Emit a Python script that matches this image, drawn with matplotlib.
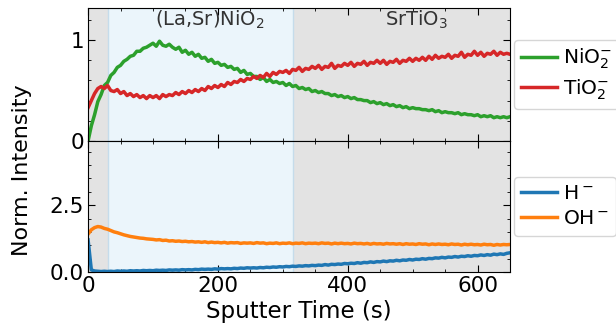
import numpy as np
import matplotlib
matplotlib.use('Agg')
import matplotlib.pyplot as plt
from matplotlib.ticker import MultipleLocator

# Sputter time grid (s), one reading every 5 s
t = np.arange(0, 651, 5)

# Top panel: NiO2- and TiO2- (normalised)
nio2 = [0.00, 0.15, 0.26, 0.39, 0.46, 0.55, 0.58, 0.65, 0.68, 0.73,
        0.75, 0.79, 0.81, 0.84, 0.85, 0.89, 0.89, 0.92, 0.93, 0.95,
        0.97, 0.94, 0.99, 0.95, 0.94, 0.96, 0.93, 0.91, 0.93, 0.88,
        0.90, 0.86, 0.88, 0.84, 0.86, 0.82, 0.83, 0.79, 0.81, 0.77,
        0.78, 0.75, 0.76, 0.73, 0.74, 0.71, 0.72, 0.68, 0.70, 0.66,
        0.67, 0.64, 0.64, 0.61, 0.63, 0.59, 0.61, 0.58, 0.59, 0.57,
        0.58, 0.55, 0.57, 0.54, 0.55, 0.52, 0.53, 0.51, 0.52, 0.49,
        0.50, 0.48, 0.49, 0.47, 0.47, 0.45, 0.46, 0.44, 0.45, 0.43,
        0.44, 0.42, 0.43, 0.41, 0.41, 0.40, 0.40, 0.38, 0.39, 0.37,
        0.38, 0.36, 0.37, 0.35, 0.36, 0.34, 0.35, 0.33, 0.34, 0.32,
        0.33, 0.32, 0.32, 0.31, 0.31, 0.30, 0.31, 0.29, 0.30, 0.28,
        0.29, 0.28, 0.28, 0.27, 0.28, 0.26, 0.27, 0.26, 0.26, 0.25,
        0.26, 0.24, 0.25, 0.24, 0.25, 0.23, 0.24, 0.23, 0.24, 0.23,
        0.24]
tio2 = [0.33, 0.40, 0.47, 0.52, 0.54, 0.52, 0.55, 0.50, 0.49, 0.51,
        0.47, 0.49, 0.45, 0.47, 0.44, 0.46, 0.43, 0.45, 0.42, 0.45,
        0.43, 0.45, 0.42, 0.46, 0.44, 0.46, 0.45, 0.48, 0.46, 0.49,
        0.47, 0.50, 0.48, 0.51, 0.49, 0.52, 0.50, 0.54, 0.52, 0.55,
        0.53, 0.56, 0.54, 0.58, 0.56, 0.59, 0.58, 0.61, 0.59, 0.62,
        0.61, 0.64, 0.62, 0.65, 0.63, 0.67, 0.64, 0.68, 0.66, 0.69,
        0.68, 0.70, 0.67, 0.71, 0.70, 0.73, 0.69, 0.72, 0.71, 0.74,
        0.72, 0.75, 0.71, 0.74, 0.73, 0.77, 0.72, 0.75, 0.74, 0.77,
        0.75, 0.78, 0.74, 0.77, 0.76, 0.79, 0.75, 0.78, 0.77, 0.80,
        0.77, 0.80, 0.76, 0.79, 0.78, 0.81, 0.77, 0.80, 0.79, 0.82,
        0.79, 0.82, 0.80, 0.83, 0.80, 0.84, 0.81, 0.85, 0.82, 0.84,
        0.83, 0.86, 0.82, 0.85, 0.84, 0.88, 0.83, 0.86, 0.85, 0.89,
        0.85, 0.88, 0.84, 0.87, 0.86, 0.89, 0.85, 0.88, 0.86, 0.87,
        0.86]

# Bottom panel: H- and OH-
h = [1.20, 0.08, 0.04, 0.03, 0.02, 0.03, 0.02, 0.03, 0.02, 0.04,
     0.03, 0.04, 0.03, 0.05, 0.04, 0.05, 0.04, 0.06, 0.05, 0.06,
     0.05, 0.07, 0.06, 0.07, 0.06, 0.08, 0.07, 0.08, 0.07, 0.09,
     0.08, 0.09, 0.08, 0.10, 0.09, 0.11, 0.10, 0.11, 0.10, 0.12,
     0.11, 0.13, 0.12, 0.13, 0.12, 0.14, 0.13, 0.15, 0.14, 0.16,
     0.15, 0.16, 0.15, 0.17, 0.16, 0.18, 0.17, 0.19, 0.18, 0.20,
     0.19, 0.21, 0.20, 0.22, 0.21, 0.23, 0.22, 0.24, 0.23, 0.25,
     0.24, 0.26, 0.25, 0.28, 0.26, 0.29, 0.28, 0.30, 0.29, 0.32,
     0.31, 0.33, 0.32, 0.35, 0.33, 0.36, 0.35, 0.38, 0.36, 0.39,
     0.38, 0.41, 0.39, 0.42, 0.41, 0.44, 0.42, 0.45, 0.44, 0.47,
     0.45, 0.48, 0.47, 0.50, 0.48, 0.51, 0.50, 0.53, 0.52, 0.55,
     0.53, 0.56, 0.55, 0.58, 0.56, 0.59, 0.58, 0.61, 0.59, 0.62,
     0.61, 0.64, 0.62, 0.65, 0.63, 0.67, 0.65, 0.68, 0.66, 0.70,
     0.72]
oh = [1.42, 1.58, 1.66, 1.70, 1.68, 1.63, 1.60, 1.55, 1.50, 1.47,
      1.43, 1.39, 1.36, 1.33, 1.31, 1.29, 1.27, 1.26, 1.24, 1.23,
      1.22, 1.20, 1.21, 1.18, 1.19, 1.16, 1.17, 1.15, 1.16, 1.14,
      1.15, 1.13, 1.14, 1.12, 1.13, 1.11, 1.13, 1.10, 1.12, 1.10,
      1.11, 1.09, 1.11, 1.08, 1.10, 1.09, 1.10, 1.07, 1.09, 1.08,
      1.09, 1.07, 1.10, 1.08, 1.09, 1.06, 1.08, 1.07, 1.09, 1.06,
      1.08, 1.07, 1.09, 1.06, 1.08, 1.07, 1.09, 1.06, 1.08, 1.07,
      1.08, 1.06, 1.09, 1.07, 1.08, 1.05, 1.08, 1.06, 1.08, 1.06,
      1.07, 1.05, 1.08, 1.06, 1.07, 1.05, 1.07, 1.04, 1.07, 1.05,
      1.06, 1.04, 1.07, 1.05, 1.06, 1.04, 1.06, 1.03, 1.06, 1.04,
      1.05, 1.03, 1.06, 1.04, 1.05, 1.02, 1.05, 1.03, 1.05, 1.03,
      1.04, 1.02, 1.05, 1.03, 1.04, 1.01, 1.04, 1.02, 1.04, 1.02,
      1.03, 1.01, 1.04, 1.02, 1.03, 1.00, 1.03, 1.01, 1.03, 1.02,
      1.03]

# Layer boundaries (s)
film_start, film_end = 31, 316

fig = plt.figure(figsize=(6.16, 3.33), dpi=100)
ax1 = fig.add_axes([0.143, 0.577, 0.685, 0.399])
ax2 = fig.add_axes([0.143, 0.183, 0.685, 0.394], sharex=ax1)

for ax in (ax1, ax2):
    ax.axvspan(0, film_start, color='#e3e3e3', lw=0)
    ax.axvspan(film_end, 650, color='#e3e3e3', lw=0)
    ax.axvspan(film_start, film_end, facecolor='#ebf5fb', edgecolor='#c5dceb', lw=1)
    ax.tick_params(which='both', direction='in', top=True, right=True, labelsize=15.5, pad=3)
    ax.tick_params(which='major', length=5)
    ax.tick_params(which='minor', length=2.5)
    ax.xaxis.set_minor_locator(MultipleLocator(50))

leg_kw = dict(loc='center left', bbox_to_anchor=(1.01, 0.5), fontsize=14.5,
              handlelength=1.75, handletextpad=0.3, borderpad=0.35, labelspacing=0.3,
              borderaxespad=0)

ax1.plot(t, nio2, color='tab:green', lw=2.5, label='NiO$_2^{-}$')
ax1.plot(t, tio2, color='tab:red', lw=2.5, label='TiO$_2^{-}$')
ax1.set_xlim(0, 650)
ax1.set_ylim(0, 1.32)
ax1.set_yticks([0, 1])
ax1.yaxis.set_minor_locator(MultipleLocator(0.2))
ax1.tick_params(labelbottom=False)
ax1.text(187, 1.2, '(La,Sr)NiO$_2$', ha='center', va='center', fontsize=14, color='#333333')
ax1.text(505, 1.2, 'SrTiO$_3$', ha='center', va='center', fontsize=14, color='#333333')
ax1.legend(**leg_kw)

ax2.plot(t, h, color='tab:blue', lw=2.5, label='H$^-$')
ax2.plot(t, oh, color='tab:orange', lw=2.5, label='OH$^-$')
ax2.set_ylim(0, 4.9)
ax2.set_yticks([0, 2.5])
ax2.set_yticklabels(['0.0', '2.5'])
ax2.yaxis.set_minor_locator(MultipleLocator(0.5))
ax2.set_xticks([0, 200, 400, 600])
ax2.set_xlabel('Sputter Time (s)', fontsize=16.5, labelpad=3)
ax2.legend(**leg_kw)

fig.text(0.036, 0.49, 'Norm. Intensity', rotation=90, ha='center', va='center', fontsize=16)

fig.savefig('out.png', dpi=100)
